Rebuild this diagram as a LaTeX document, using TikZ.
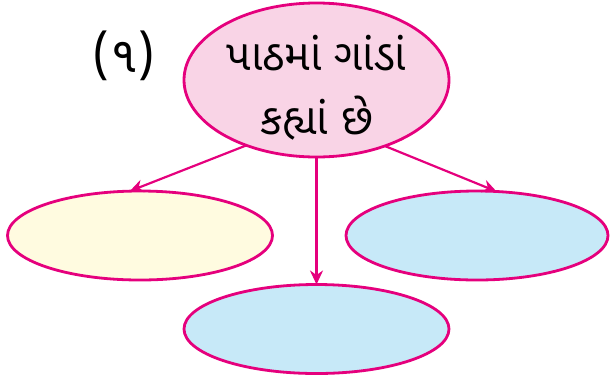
\documentclass[tikz,border=0pt]{standalone}
\usepackage{fontspec}
\usetikzlibrary{shapes.geometric,arrows.meta}
\newfontfamily\guj[Script=Gujarati]{Noto Sans Gujarati UI}
\definecolor{mag}{HTML}{E5007D}
\definecolor{pinkfill}{HTML}{F9D4E6}
\definecolor{yelfill}{HTML}{FFFBE0}
\definecolor{bluefill}{HTML}{C7E9F8}
\tikzset{
  bubble/.style={ellipse, draw=mag, line width=2.8pt, inner sep=0pt, outer sep=0pt},
  link/.style={draw=mag, line width=2.2pt, -{Stealth[length=14pt,width=13pt]}}
}
\begin{document}
\begin{tikzpicture}[x=1pt,y=-1pt]
\useasboundingbox (0,0) rectangle (610,376);
\node[bubble, fill=pinkfill, minimum width=265pt, minimum height=154pt] (top) at (316.5,80) {};
\node[align=center, font=\guj\fontsize{43}{58}\selectfont] (toptext) at (316.5,88) {પાઠમાં ગાંડાં\\[6pt]કહ્યાં છે};
\node[font=\guj\fontsize{50}{52}\selectfont] (num) at (124,56) {(૧)};
\node[bubble, fill=yelfill, minimum width=265pt, minimum height=89pt] (left) at (140,235.5) {};
\node[bubble, fill=bluefill, minimum width=262pt, minimum height=89pt] (right) at (477,235.5) {};
\node[bubble, fill=bluefill, minimum width=265pt, minimum height=89pt] (bottom) at (316.5,329) {};
\draw[link] (top.223) -- (left.103);
\draw[link] (top.south) -- (bottom.north);
\draw[link] (top.316) -- (right.66);
\end{tikzpicture}
\end{document}
